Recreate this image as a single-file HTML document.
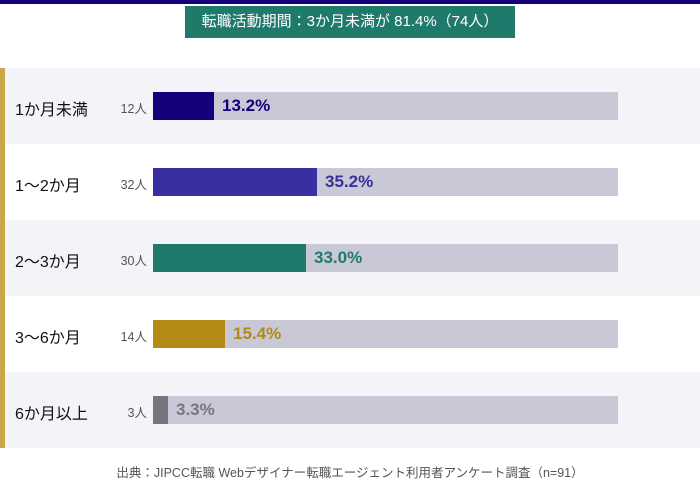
<!DOCTYPE html>
<html><head><meta charset="utf-8"><style>
body{margin:0;width:700px;height:498px;background:#fff;font-family:"Liberation Sans","Noto Sans CJK JP",sans-serif;position:relative;overflow:hidden}
.top{position:absolute;left:0;top:0;width:700px;height:4px;background:#14007a}
.hd{position:absolute;left:185px;top:6px;width:330px;height:32px;background:#1f7a6c;color:#fff;font-size:15px;line-height:32px;text-align:center}
.gold{position:absolute;left:0;top:68px;width:5px;height:380px;background:#c9a64a}
.row{position:absolute;left:5px;width:695px;height:76px}
.lab{position:absolute;left:10px;top:28px;font-size:16px;color:#111}
.cnt{position:absolute;width:60px;left:82px;top:30px;text-align:right;font-size:12.5px;color:#555}
.bg{position:absolute;left:148px;top:24px;width:465px;height:28px;background:#c8c8d6}
.bar{position:absolute;left:148px;top:24px;height:28px}
.pct{position:absolute;top:28px;font-size:17px;font-weight:bold}
.src{position:absolute;left:0;width:700px;top:462px;text-align:center;font-size:12.5px;color:#555}
</style></head><body>
<div class="top"></div>
<div class="hd">転職活動期間：3か月未満が 81.4%（74人）</div>
<div class="gold"></div>
<div class="row" style="top:68px;background:#f4f4f8"><div class="lab">1か月未満</div><div class="cnt">12人</div><div class="bg"></div><div class="bar" style="width:61px;background:#14007a"></div><div class="pct" style="left:217px;color:#14007a">13.2%</div></div>
<div class="row" style="top:144px"><div class="lab">1〜2か月</div><div class="cnt">32人</div><div class="bg"></div><div class="bar" style="width:164px;background:#3a2fa0"></div><div class="pct" style="left:320px;color:#3a2fa0">35.2%</div></div>
<div class="row" style="top:220px;background:#f4f4f8"><div class="lab">2〜3か月</div><div class="cnt">30人</div><div class="bg"></div><div class="bar" style="width:153px;background:#1f7a6c"></div><div class="pct" style="left:309px;color:#1f7a6c">33.0%</div></div>
<div class="row" style="top:296px"><div class="lab">3〜6か月</div><div class="cnt">14人</div><div class="bg"></div><div class="bar" style="width:72px;background:#b28a14"></div><div class="pct" style="left:228px;color:#b28a14">15.4%</div></div>
<div class="row" style="top:372px;background:#f4f4f8"><div class="lab">6か月以上</div><div class="cnt">3人</div><div class="bg"></div><div class="bar" style="width:15px;background:#76767f"></div><div class="pct" style="left:171px;color:#76767f">3.3%</div></div>
<div class="src">出典：JIPCC転職 Webデザイナー転職エージェント利用者アンケート調査（n=91）</div>
</body></html>
